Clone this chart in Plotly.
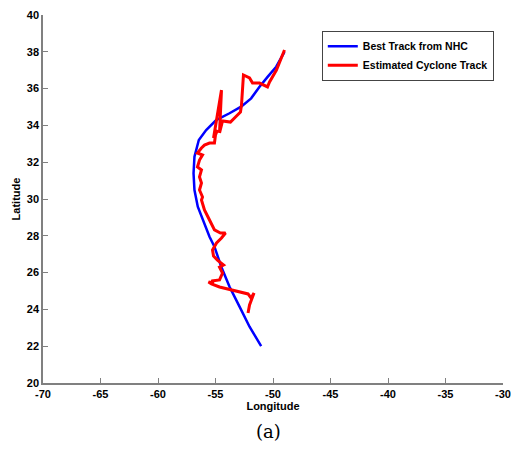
import plotly.graph_objects as go

# Best track from NHC (longitude, latitude)
best_lon = [-51.03, -52.04, -52.91, -53.78, -54.50, -55.09, -55.52, -55.96, -56.54, -56.83,
            -56.91, -56.83, -56.45, -55.81, -54.94, -53.78, -52.77, -51.90, -51.17, -50.45,
            -49.72, -49.0]
best_lat = [22.01, 23.06, 24.15, 25.23, 26.32, 27.41, 27.95, 28.68, 29.58, 30.49,
            31.40, 32.30, 33.21, 33.75, 34.29, 34.66, 35.02, 35.47, 36.10, 36.65,
            37.19, 38.0]

# Estimated cyclone track (longitude, latitude)
est_lon = [-52.17, -52.04, -51.65, -51.91, -52.17, -52.65, -53.26, -53.96, -54.65, -55.35,
           -55.61, -55.17, -55.35, -54.65, -54.39, -54.65, -54.30, -54.83, -55.17, -55.26,
           -54.91, -54.48, -54.13, -54.57, -55.09, -55.52, -55.96, -56.22, -56.13, -56.39,
           -56.22, -56.39, -56.22, -56.57, -56.39, -56.13, -56.57, -56.22, -55.96, -55.52,
           -55.09, -55.00, -54.83, -55.17, -54.48, -54.65, -54.39, -53.70, -53.26, -52.83,
           -52.74, -52.57, -52.04, -51.78, -51.17, -50.48, -50.30, -49.87, -49.70, -49.0]
est_lat = [23.80, 24.24, 24.89, 24.62, 24.84, 24.92, 25.00, 25.11, 25.22, 25.38,
           25.49, 25.43, 25.54, 25.60, 25.98, 26.30, 26.41, 26.68, 26.90, 27.23,
           27.61, 27.88, 28.15, 28.15, 28.32, 28.86, 29.40, 29.95, 30.11, 30.49,
           30.87, 31.20, 31.58, 31.74, 32.12, 32.39, 32.50, 32.77, 32.93, 33.04,
           33.04, 33.48, 33.75, 33.32, 35.92, 33.59, 34.24, 34.18, 34.46, 34.73,
           35.11, 36.74, 36.58, 36.30, 36.30, 36.09, 36.36, 36.85, 37.01, 38.1]

x_ticks = [-70, -65, -60, -55, -50, -45, -40, -35, -30]
y_ticks = [20, 22, 24, 26, 28, 30, 32, 34, 36, 38, 40]

fig = go.Figure()
fig.add_trace(go.Scatter(x=best_lon, y=best_lat, mode="lines", name="Best Track from NHC",
                         line=dict(color="#0000ff", width=2.5)))
fig.add_trace(go.Scatter(x=est_lon, y=est_lat, mode="lines", name="Estimated Cyclone Track",
                         line=dict(color="#ff0000", width=3)))

bold = dict(family="Liberation Sans, Arial", size=11, color="black", weight="bold")
fig.update_layout(
    width=511, height=449,
    margin=dict(l=43, r=8, t=15, b=66, autoexpand=False),
    paper_bgcolor="white", plot_bgcolor="white",
    showlegend=True,
    legend=dict(x=0.98, y=0.957, xanchor="right", yanchor="top",
                bgcolor="white", bordercolor="#444", borderwidth=1,
                font=dict(family="Liberation Sans, Arial", size=10.5, color="black", weight="bold"),
                tracegroupgap=0, itemwidth=30),
    xaxis=dict(range=[-70, -30], tickvals=x_ticks, ticktext=[str(v) for v in x_ticks],
               showline=True, linecolor="#808080", linewidth=1.5, ticks="inside",
               ticklen=5, tickcolor="#808080", showgrid=False, zeroline=False,
               tickfont=bold, automargin=False, ticklabeloverflow="allow",
               title=dict(text="Longitude", standoff=2, font=bold)),
    yaxis=dict(range=[20, 40], tickvals=y_ticks, ticktext=[str(v) for v in y_ticks],
               showline=True, linecolor="#808080", linewidth=1.5, ticks="inside",
               ticklen=5, tickcolor="#808080", showgrid=False, zeroline=False,
               tickfont=bold, automargin=False,
               title=dict(text="Latitude", standoff=4, font=bold)),
    annotations=[dict(text="(a)", xref="paper", yref="paper", x=0.49, y=-0.133,
                      xanchor="center", yanchor="middle", showarrow=False,
                      font=dict(family="DejaVu Serif, Liberation Serif", size=18, color="black"))],
)

fig.write_html("out.html", config={"displayModeBar": False},
               post_script="document.body.style.margin='0';document.body.style.overflow='hidden';")
